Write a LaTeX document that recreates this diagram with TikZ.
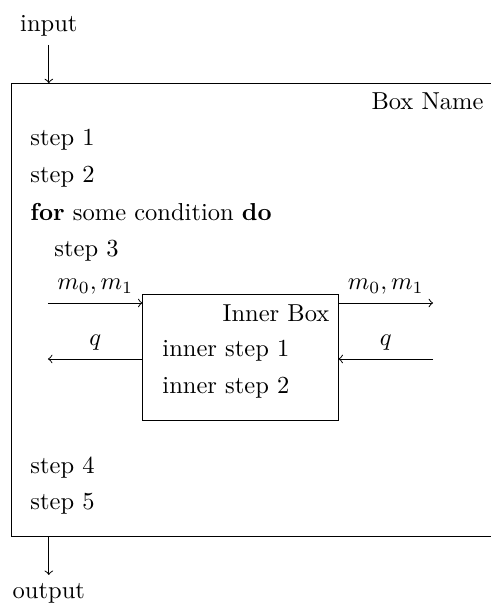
\documentclass[tikz,border=0pt]{standalone}
\usepackage{amsmath, amssymb, tikz}
\usetikzlibrary{arrows, positioning}

\begin{document}
\begin{tikzpicture}
	\tikzstyle{algline} = [anchor=base west, inner sep=0pt]
	\tikzstyle{boxname} = [anchor=base east, inner sep=0pt]
	\tikzstyle{frame} = [draw, rectangle, inner sep=0pt]
	\useasboundingbox (0,0) rectangle (7.03,8.69);
	\node[frame, minimum width=6.88cm, minimum height=6.5cm] (outer) at (3.61,4.24) {};
	\node[frame, minimum width=2.797cm, minimum height=1.793cm] (inner) at (3.4485,3.5635) {};
	\node[anchor=south] (input) at (0.70,8.045) {input}; \node[anchor=north] (output) at (0.70,0.445) {output};
	\draw[->] (input) to (input |- outer.north); \draw[->] (output |- outer.south) to (output);
	\node[boxname] (outername) at (6.94,7.113) {Box Name};
	\node[algline] (s1) at (0.43,6.61) {step 1}; \node[algline] (s2) at (0.43,6.08) {step 2};
	\node[algline] (loop) at (0.43,5.535) {\textbf{for} some condition \textbf{do}};
	\node[algline] (s3) at (0.774,5.005) {step 3};
	\node[algline] (s4) at (0.43,1.907) {step 4}; \node[algline] (s5) at (0.43,1.377) {step 5};
	\node[boxname] (innername) at (4.73,4.073) {Inner Box};
	\node[algline] (is1) at (2.323,3.571) {inner step 1}; \node[algline] (is2) at (2.323,3.054) {inner step 2};
	% messages in and out of the inner box
	\coordinate (min) at (0.688,4.345); \coordinate (mout) at (6.21,4.345);
	\coordinate (qout) at (0.688,3.542); \coordinate (qin) at (6.21,3.542);
	\draw[->] (min) to node[above] {$m_0, m_1$} (min -| inner.west);
	\draw[->] (mout -| inner.east) to node[above] {$m_0, m_1$} (mout);
	\draw[->] (qout -| inner.west) to node[above] {$q$} (qout);
	\draw[->] (qin) to node[above] {$q$} (qin -| inner.east);
\end{tikzpicture}
\end{document}
